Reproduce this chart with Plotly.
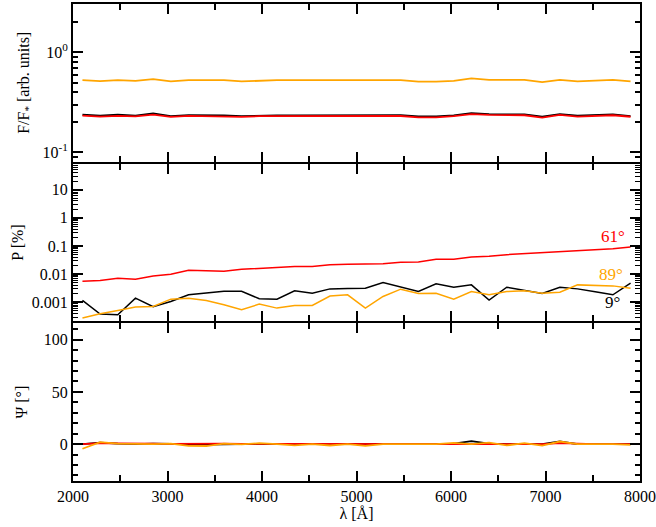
import numpy as np
import plotly.graph_objects as go
from plotly.subplots import make_subplots

wavelength = [2100, 2287, 2474, 2661, 2848, 3035, 3223, 3410, 3597, 3784, 3971,
              4158, 4345, 4532, 4719, 4906, 5094, 5281, 5468, 5655, 5842, 6029,
              6216, 6403, 6590, 6777, 6965, 7152, 7339, 7526, 7713, 7900]

flux_9 = [0.2378, 0.2325, 0.2378, 0.2325, 0.245, 0.2307, 0.236, 0.236, 0.2343, 0.2307, 0.2343,
          0.2343, 0.2343, 0.2343, 0.2343, 0.2343, 0.2325, 0.2343, 0.236, 0.229, 0.229, 0.2343,
          0.247, 0.2414, 0.2396, 0.2396, 0.2272, 0.2414, 0.2325, 0.2378, 0.2396, 0.2307]
flux_61 = [0.233, 0.228, 0.232, 0.229, 0.239, 0.226, 0.232, 0.231, 0.230, 0.226, 0.230,
           0.230, 0.229, 0.230, 0.230, 0.230, 0.228, 0.230, 0.231, 0.224, 0.224, 0.230,
           0.241, 0.237, 0.235, 0.235, 0.223, 0.237, 0.228, 0.233, 0.235, 0.227]
flux_89 = [0.528, 0.516, 0.528, 0.520, 0.540, 0.512, 0.528, 0.524, 0.528, 0.512, 0.524,
           0.528, 0.528, 0.528, 0.528, 0.524, 0.520, 0.524, 0.528, 0.509, 0.509, 0.520,
           0.549, 0.532, 0.532, 0.532, 0.505, 0.532, 0.512, 0.524, 0.532, 0.512]

pol_9 = [0.00118, 0.000387, 0.000367, 0.00142, 0.000703, 0.00108, 0.00187, 0.00213, 0.00251,
         0.00251, 0.00135, 0.00131, 0.00258, 0.00213, 0.00303, 0.00312, 0.00320, 0.00508,
         0.00357, 0.00244, 0.00456, 0.00348, 0.00420, 0.00121, 0.00348, 0.00272, 0.00208,
         0.00348, 0.00303, 0.00242, 0.00187, 0.00481]
pol_61 = [0.00566, 0.00598, 0.00722, 0.00666, 0.00873, 0.0100, 0.0138, 0.0135, 0.0128, 0.0150,
          0.0163, 0.0177, 0.0187, 0.0187, 0.0219, 0.0225, 0.0232, 0.0238, 0.0265, 0.0270,
          0.0338, 0.0338, 0.0409, 0.0432, 0.0494, 0.0535, 0.0566, 0.0650, 0.0685, 0.0743,
          0.0803, 0.0922]
pol_89 = [0.00028, 0.000398, 0.000522, 0.000684, 0.000722, 0.00131, 0.00142, 0.00118, 0.000828,
          0.000551, 0.000873, 0.000631, 0.000784, 0.000784, 0.00168, 0.00187, 0.000631, 0.00163,
          0.00296, 0.00208, 0.00213, 0.00131, 0.00244, 0.00187, 0.00244, 0.00258, 0.00213,
          0.00232, 0.00420, 0.00409, 0.00387, 0.00321]

psi_9 = [0, 1.5, 0.5, 0, 0.5, 0.5, 0, -0.5, 0, 0, 0, -0.3, 0, 0, 0, 0, 0, 0, 0, 0, 0, 0.5,
         2.8, 0.5, 0, 0, 0, 2.5, 0, 0, 0, 0]
psi_61 = [0, 1.0, 0.8, 0.3, 0.5, 0.3, 0.5, 0.5, 0.5, 0.3, 0.3, 0.3, 0.3, 0.3, 0, 0, 0, 0, 0, 0,
          0, 0.3, 0.5, 0.3, 0, 0.3, 0, 1.0, 0.3, 0, 0, 0]
psi_89 = [-4.4, 1.9, 0.5, 0, 0, 0.5, -1.6, -1.8, 0.5, -0.3, 0.9, 0, -1.2, 0, -1.3, 0, -1.6, 0,
          0, 0, 0, 1.2, 0, 1.5, -1.2, 1.0, -1.5, 2.5, 0, 0, 0, -0.8]

series_names = ["9°", "61°", "89°"]
colors = ["#000000", "#FF0000", "#FFA500"]

FONT = "Liberation Serif, Times New Roman, serif"

W, H = 656, 527
M_T, M_B, M_L, M_R = 4, 46, 73, 16
area_h = H - M_T - M_B
LW = 2

fig = make_subplots(rows=3, cols=1, shared_xaxes=True, vertical_spacing=LW / area_h)

for name, col, f, p, s in zip(series_names, colors,
                              [flux_9, flux_61, flux_89],
                              [pol_9, pol_61, pol_89],
                              [psi_9, psi_61, psi_89]):
    fig.add_trace(go.Scatter(x=wavelength, y=f, mode="lines", name=name,
                             line=dict(color=col, width=1.8), showlegend=False), row=1, col=1)
    fig.add_trace(go.Scatter(x=wavelength, y=p, mode="lines", name=name,
                             line=dict(color=col, width=1.5), showlegend=False), row=2, col=1)
    fig.add_trace(go.Scatter(x=wavelength, y=s, mode="lines", name=name,
                             line=dict(color=col, width=1.8), showlegend=False), row=3, col=1)

common = dict(showline=True, linewidth=LW, linecolor="black", mirror="ticks",
              ticks="inside", ticklen=10, tickwidth=1.5, tickcolor="black",
              showgrid=False, zeroline=False, automargin=False,
              tickfont=dict(family=FONT, size=16, color="black"))

minor_x = dict(ticks="inside", ticklen=6, tickwidth=1.5, tickcolor="black", showgrid=False,
               tickvals=[2500, 3500, 4500, 5500, 6500, 7500])

for r in (1, 2, 3):
    fig.update_xaxes(range=[2000, 8000], tickvals=[2000, 3000, 4000, 5000, 6000, 7000, 8000],
                     minor=minor_x, showticklabels=(r == 3), row=r, col=1, **common)

flux_minor = [0.08, 0.09] + [k / 10 for k in range(2, 10)] + [2, 3]
fig.update_yaxes(type="log", range=[np.log10(0.0807), np.log10(3.05)],
                 tickvals=[0.1, 1], ticktext=["10<sup>-1</sup>", "10<sup>0</sup>"],
                 minor=dict(ticks="inside", ticklen=5, tickwidth=1.5, tickcolor="black",
                            showgrid=False, tickvals=flux_minor),
                 title=dict(text="F/F<sub>*</sub> [arb. units]", standoff=9,
                            font=dict(family=FONT, size=16, color="black")),
                 row=1, col=1, **common)

pol_minor = []
for d in [1e-4, 1e-3, 1e-2, 1e-1, 1, 10]:
    for k in range(2, 10):
        pol_minor.append(d * k)
fig.update_yaxes(type="log", range=[-3.669, 1.92],
                 tickvals=[0.001, 0.01, 0.1, 1, 10],
                 ticktext=["0.001", "0.01", "0.1", "1", "10"],
                 minor=dict(ticks="inside", ticklen=5, tickwidth=1.2, tickcolor="black",
                            showgrid=False, tickvals=pol_minor),
                 title=dict(text="P [%]", standoff=4,
                            font=dict(family=FONT, size=16, color="black")),
                 row=2, col=1, **common)

fig.update_yaxes(range=[-35.3, 115.7], tickvals=[0, 50, 100],
                 minor=dict(ticks="inside", ticklen=5, tickwidth=1.5, tickcolor="black",
                            showgrid=False,
                            tickvals=[-30, -20, -10, 10, 20, 30, 40, 60, 70, 80, 90, 110]),
                 title=dict(text="Ψ [°]", standoff=12,
                            font=dict(family=FONT, size=16, color="black")),
                 row=3, col=1, **common)

fig.update_xaxes(title=dict(text="λ [Å]", standoff=4,
                            font=dict(family=FONT, size=16, color="black")), row=3, col=1)

labels = [("61°", 7711, 0.218, "#FF0000"), ("89°", 7693, 0.0100, "#FFA500"),
          ("9°", 7704, 0.00100, "#000000")]
for txt, xv, yv, col in labels:
    fig.add_annotation(x=xv, y=np.log10(yv), xref="x2", yref="y2", text=txt, showarrow=False,
                       font=dict(family=FONT, size=17, color=col))

fig.update_layout(width=W, height=H, margin=dict(l=M_L, r=M_R, t=M_T, b=M_B),
                  plot_bgcolor="white", paper_bgcolor="white",
                  font=dict(family=FONT, size=16, color="black"))

fig.write_html("out.html", config={"displayModeBar": False},
               post_script="document.body.style.margin='0';document.body.style.overflow='hidden';")
